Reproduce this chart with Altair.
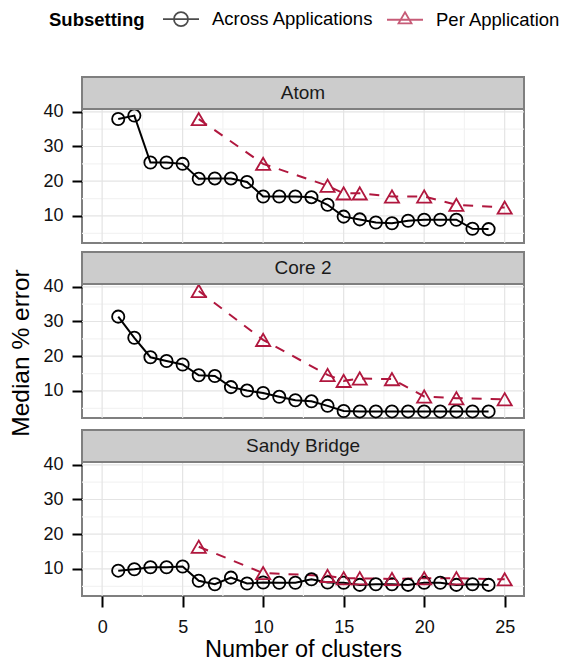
import altair as alt
import pandas as pd

# ---------------- data ----------------
cpus = ["Atom", "Core 2", "Sandy Bridge"]
series_names = ["Across Applications", "Per Application"]
series_colors = ["#000000", "#B0173E"]

clusters_across = [1, 2, 3, 4, 5, 6, 7, 8, 9, 10, 11, 12,
                   13, 14, 15, 16, 17, 18, 19, 20, 21, 22, 23, 24]
clusters_per = [6, 10, 14, 15, 16, 18, 20, 22, 25]

atom_across = [37.9, 38.9, 25.4, 25.4, 25.0, 20.7, 20.8, 20.8, 19.8, 15.6, 15.6, 15.6,
               15.4, 13.2, 9.8, 9.0, 8.1, 7.9, 8.6, 8.9, 8.9, 8.9, 6.3, 6.2]
atom_per = [37.9, 25.0, 18.7, 16.5, 16.5, 15.6, 15.6, 13.2, 12.4]

core2_across = [31.4, 25.3, 19.7, 18.6, 17.6, 14.5, 14.3, 11.1, 10.1, 9.4, 8.3, 7.3,
                7.0, 5.7, 4.2, 4.1, 4.1, 4.1, 4.1, 4.1, 4.1, 4.1, 4.1, 4.1]
core2_per = [38.8, 24.7, 14.6, 12.9, 13.6, 13.4, 8.4, 7.9, 7.6]

sandy_across = [9.5, 9.9, 10.5, 10.5, 10.7, 6.6, 5.6, 7.5, 5.8, 6.1, 6.0, 6.0,
                7.0, 6.1, 6.0, 5.4, 5.6, 5.6, 5.4, 6.0, 6.0, 5.4, 5.6, 5.4]
sandy_per = [16.4, 8.8, 8.0, 7.3, 7.3, 7.1, 7.3, 7.3, 7.0]

x_major = [0, 5, 10, 15, 20, 25]
x_minor = [2.5, 7.5, 12.5, 17.5, 22.5]
y_major = [10, 20, 30, 40]
y_minor = [5, 15, 25, 35]

y_title = "Median % error"
x_title = "Number of clusters"
legend_title = "Subsetting"

rows = []
for cpu, across, per in zip(cpus, [atom_across, core2_across, sandy_across],
                            [atom_per, core2_per, sandy_per]):
    for c, v in zip(clusters_across, across):
        rows.append({"cpu": cpu, "series": series_names[0], "clusters": c, "error": v})
    for c, v in zip(clusters_per, per):
        rows.append({"cpu": cpu, "series": series_names[1], "clusters": c, "error": v})
df = pd.DataFrame(rows)

# ---------------- styling / layout ----------------
FONT = "Liberation Sans"
W, H_PANEL, H_STRIP = 442, 134, 32
X_DOMAIN = [-1.25, 26.2]
Y_LO, PANEL_TOP = 2.2, 40.8
PX_PER_UNIT = H_PANEL / (PANEL_TOP - Y_LO)
STRIP_TOP = PANEL_TOP + H_STRIP / PX_PER_UNIT
H_FACET = H_PANEL + H_STRIP
BORDER = "#7F7F7F"
GRID_MAJOR = "#E4E4E4"
GRID_MINOR = "#F3F3F3"
TICK_FS, STRIP_FS, LEGEND_FS, XTITLE_FS, YTITLE_FS = 18, 19, 18.5, 23.5, 24.5

circle_path = ("M-1,0H1M0.39,0A0.39,0.39 0 1,1 -0.39,0"
               "A0.39,0.39 0 1,1 0.39,0")
tri_path = "M-1,0H1M0,-0.42L0.36,0.2L-0.36,0.2Z"

legend = alt.Legend(
    title=legend_title, orient="none", legendX=28, legendY=-77,
    direction="horizontal", titleOrient="left", titleAnchor="end", titleBaseline="bottom",
    titleFontSize=LEGEND_FS, titleFontWeight="bold", titleColor="black", titleFont=FONT,
    labelFontSize=LEGEND_FS, labelColor="black", labelFont=FONT, labelLimit=400,
    symbolSize=1296, symbolStrokeWidth=1.8, symbolFillColor="transparent",
    labelOffset=12, columnPadding=9, titlePadding=17, padding=0,
)

legend_layer = (
    alt.Chart(pd.DataFrame({"series": series_names}))
    .transform_filter("false")
    .mark_point(filled=False, strokeWidth=1.8)
    .encode(
        color=alt.Color("series:N", scale=alt.Scale(domain=series_names, range=series_colors),
                        legend=legend),
        shape=alt.Shape("series:N", scale=alt.Scale(domain=series_names,
                                                    range=[circle_path, tri_path]),
                        legend=legend),
    )
)

ytitle_text = (
    alt.Chart(pd.DataFrame({"t": [y_title]}))
    .mark_text(angle=270, fontSize=YTITLE_FS, font=FONT, baseline="alphabetic",
               align="center", color="black")
    .encode(text="t:N")
)
ytitle_chart = alt.layer(ytitle_text, legend_layer).properties(
    width=16, height=552, view=alt.ViewBackground(stroke="transparent", fill="transparent"))


def facet(cpu, bottom):
    xs = alt.Scale(domain=X_DOMAIN, nice=False, zero=False)
    ys = alt.Scale(domain=[Y_LO, STRIP_TOP], nice=False, zero=False)
    if bottom:
        xaxis = alt.Axis(values=x_major, title=x_title, grid=False, domain=False,
                         tickSize=11, tickWidth=2, tickColor="black",
                         labelFontSize=TICK_FS, labelColor="#111111", labelPadding=11,
                         labelFont=FONT,
                         titleFontSize=XTITLE_FS, titleFontWeight="normal", titleColor="black",
                         titleFont=FONT, titlePadding=1, labelFlush=False)
    else:
        xaxis = None
    yaxis = alt.Axis(values=y_major, title=None, grid=False, domain=False,
                     tickSize=10, tickWidth=2, tickColor="black",
                     labelFontSize=TICK_FS, labelColor="#111111", labelPadding=9, labelFont=FONT)

    def X(f):
        return alt.X(f, scale=xs, axis=xaxis)

    def Y(f):
        return alt.Y(f, scale=ys, axis=yaxis)

    vminor = alt.Chart(pd.DataFrame({"v": x_minor, "lo": Y_LO, "hi": PANEL_TOP})).mark_rule(
        color=GRID_MINOR, strokeWidth=1.2).encode(x=X("v:Q"), y=Y("lo:Q"), y2="hi:Q")
    hminor = alt.Chart(pd.DataFrame({"v": y_minor})).mark_rule(
        color=GRID_MINOR, strokeWidth=1.2).encode(y=Y("v:Q"))
    vmajor = alt.Chart(pd.DataFrame({"v": x_major, "lo": Y_LO, "hi": PANEL_TOP})).mark_rule(
        color=GRID_MAJOR, strokeWidth=1.2).encode(x=X("v:Q"), y=Y("lo:Q"), y2="hi:Q")
    hmajor = alt.Chart(pd.DataFrame({"v": y_major})).mark_rule(
        color=GRID_MAJOR, strokeWidth=1.2).encode(y=Y("v:Q"))

    base = alt.Chart(df).transform_filter(alt.datum.cpu == cpu)
    across = base.transform_filter(alt.datum.series == series_names[0])
    per = base.transform_filter(alt.datum.series == series_names[1])

    across_line = across.mark_line(color=series_colors[0], strokeWidth=2).encode(
        x=X("clusters:Q"), y=Y("error:Q"))
    per_line = per.mark_line(color=series_colors[1], strokeWidth=2,
                             strokeDash=[10, 9]).encode(x=X("clusters:Q"), y=Y("error:Q"))
    across_pts = across.mark_point(shape="circle", size=150, filled=False,
                                   color=series_colors[0], strokeWidth=1.8, opacity=1).encode(
        x=X("clusters:Q"), y=Y("error:Q"))
    per_pts = per.mark_point(shape="triangle-up", size=200, filled=False,
                             color=series_colors[1], strokeWidth=1.8, opacity=1).encode(
        x=X("clusters:Q"), y=Y("error:Q"))

    strip_df = pd.DataFrame({"cpu": [cpu], "x0": [X_DOMAIN[0]], "x1": [X_DOMAIN[1]],
                             "y0": [PANEL_TOP], "y1": [STRIP_TOP]})
    strip_base = alt.Chart(strip_df)
    strip_rect = strip_base.mark_rect(fill="#CCCCCC", stroke=BORDER, strokeWidth=2).encode(
        x=X("x0:Q"), x2="x1:Q", y=Y("y0:Q"), y2="y1:Q")
    strip_text = strip_base.transform_calculate(
        xm="(datum.x0 + datum.x1) / 2", ym="(datum.y0 + datum.y1) / 2"
    ).mark_text(fontSize=STRIP_FS, color="#1a1a1a", font=FONT).encode(
        x=X("xm:Q"), y=Y("ym:Q"), text="cpu:N")

    return alt.layer(vminor, hminor, vmajor, hmajor,
                     across_line, per_line, across_pts, per_pts,
                     strip_rect, strip_text).properties(
        width=W, height=H_FACET,
        view=alt.ViewBackground(fill="white", stroke=BORDER, strokeWidth=2),
    )


stack = alt.vconcat(*[facet(cpu, i == len(cpus) - 1) for i, cpu in enumerate(cpus)],
                    spacing=5)

chart = alt.hconcat(ytitle_chart, stack, spacing=3).configure(
    font=FONT,
    padding={"left": 8, "top": 0, "right": 0, "bottom": 0},
)

chart.save("out.html", embed_options={"renderer": "svg", "actions": False})
